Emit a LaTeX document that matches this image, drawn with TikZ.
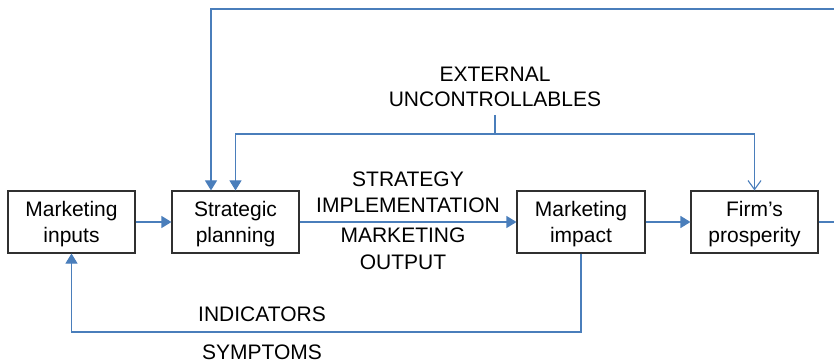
\documentclass[tikz,border=0pt]{standalone}
\usepackage{fontspec}
\setmainfont{Liberation Sans}
\usetikzlibrary{arrows.meta}
\definecolor{flowblue}{HTML}{4A7EBB}
\definecolor{boxline}{HTML}{303030}
\tikzset{
  stagebox/.style={draw=boxline, line width=1.1pt, minimum width=127pt, minimum height=62pt,
    inner sep=2pt, align=center, text depth=0pt, font={\fontsize{21}{26}\selectfont}},
  lbl/.style={inner sep=0pt, anchor=south, align=center, text depth=0pt},
  flow/.style={draw=flowblue, line width=1.1pt},
  tri/.style={-{Triangle[length=10pt,width=12pt]}},
  barb/.style={-{Straight Barb[length=9pt,width=13pt]}},
}
\begin{document}
\begin{tikzpicture}[x=1pt,y=-1pt]
\useasboundingbox (0,0) rectangle (834,363);

% main chain of stages
\node[stagebox] (in) at (71.5,222) {Marketing\\inputs};
\node[stagebox] (sp) at (235.5,222) {Strategic\\planning};
\node[stagebox, minimum width=128pt] (mi) at (581,222) {Marketing\\impact};
\node[stagebox] (fp) at (754.5,222) {Firm’s\\prosperity};

% labels
\node[lbl, font={\fontsize{21}{25}\selectfont}] (ext) at (495,107) {EXTERNAL\\UNCONTROLLABLES};
\node[lbl, font={\fontsize{21}{26}\selectfont}] (strat) at (408,213) {STRATEGY\\IMPLEMENTATION};
\node[lbl, font={\fontsize{21}{27}\selectfont}] (mout) at (403,270) {MARKETING\\OUTPUT};
\node[lbl, font={\fontsize{21}{26}\selectfont}] (ind) at (262,322) {INDICATORS};
\node[lbl, font={\fontsize{21}{26}\selectfont}] (sym) at (262,360) {SYMPTOMS};

% routing points
\coordinate (loopR) at (850,9);
\coordinate (loopL) at (211,9);
\coordinate (j) at (495,134);
\coordinate (fb) at (0,332);

% forward flow
\draw[flow, tri] (in.east) -- (sp.west);
\draw[flow, tri] (sp.east) -- (mi.west);
\draw[flow, tri] (mi.east) -- (fp.west);

% outer feedback loop from prosperity to planning
\draw[flow, tri] (fp.east) -| (loopR) -- (loopL) -- (loopL |- sp.north);

% external uncontrollables
\draw[flow] (ext.south) ++(0,8) -- (j);
\draw[flow, tri] (j) -| (sp.north);
\draw[flow, barb] (j) -| (fp.north);

% indicators / symptoms feedback
\draw[flow, tri] (mi.south) -- (mi.south |- fb) -| (in.south);
\end{tikzpicture}
\end{document}
